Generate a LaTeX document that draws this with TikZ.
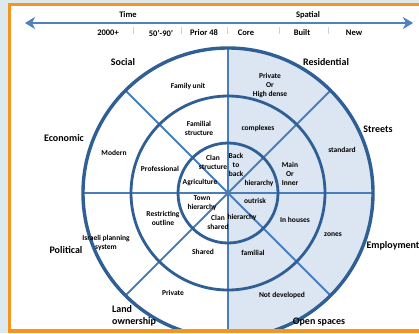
\documentclass[tikz,border=0pt]{standalone}
\usepackage{fontspec}
\setmainfont{Carlito}
\usetikzlibrary{arrows.meta,calc}
\definecolor{bgstrip}{HTML}{DDE9EC}
\definecolor{frameorange}{HTML}{F7941D}
\definecolor{ringblue}{HTML}{2F5F95}
\definecolor{spokeblue}{HTML}{4A7EBB}
\definecolor{halffill}{HTML}{DCE6F2}
\definecolor{arrowblue}{HTML}{4F81BD}
\definecolor{tickgrey}{HTML}{C5D3E3}
\begin{document}
\begin{tikzpicture}[x=1pt,y=-1pt,
  outerlbl/.style={font=\fontsize{10}{11.5}\selectfont\bfseries, inner sep=0pt},
  hdr/.style={font=\fontsize{8.5}{10}\selectfont\bfseries, inner sep=0pt},
  inlbl/.style={font=\fontsize{7.5}{9}\selectfont\bfseries, align=center, inner sep=0pt},
  ring/.style={draw=ringblue, line width=2.8pt},
  outring/.style={draw=ringblue, line width=3.4pt},
  spoke/.style={draw=spokeblue, line width=2.1pt},
  tick/.style={draw=tickgrey, line width=1pt}]
\useasboundingbox (0,0) rectangle (419,333);
% background and frame
\fill[bgstrip] (0,0) rectangle (419,333);
\fill[white] (10,4) rectangle (419,333);

\coordinate (C) at (228,193);
\begin{scope}
  \clip (10,4) rectangle (419,329);
  % right half fill
  \begin{scope}
    \clip (228,0) rectangle (419,333);
    \fill[halffill] (C) circle[radius=145pt];
  \end{scope}
  % spokes
  \coordinate (top) at ($(C)+(90:145pt)$);
  \coordinate (bot) at ($(C)+(270:145pt)$);
  \coordinate (lft) at ($(C)+(180:145pt)$);
  \coordinate (rgt) at ($(C)+(0:145pt)$);
  \coordinate (ne) at ($(C)+(45:145pt)$);
  \coordinate (sw) at ($(C)+(225:145pt)$);
  \coordinate (nw) at ($(C)+(135:145pt)$);
  \coordinate (se) at ($(C)+(315:145pt)$);
  \draw[spoke] (top) -- (bot);
  \draw[spoke] (lft) -- (rgt);
  \draw[spoke] (ne) -- (sw);
  \draw[spoke] (nw) -- (se);
  % rings
  \draw[ring] (C) circle[radius=50pt];
  \draw[ring] (C) circle[radius=97pt];
  \draw[outring] (C) circle[radius=145pt];
\end{scope}

% frame lines
\fill[frameorange] (8,3) rectangle (11,331);
\fill[frameorange] (8,3) rectangle (419,5.5);
\fill[frameorange] (8,329) rectangle (419,333);

% top arrow
\coordinate (aL) at (25,23);
\coordinate (aR) at (413,23);
\draw[arrowblue, line width=2.6pt, {Stealth[length=10pt,width=12pt,inset=3pt]}-{Stealth[length=10pt,width=12pt,inset=3pt]}] (aL) -- (aR);
\foreach \tx [count=\i] in {133,181,227,279,328}{
  \coordinate (t\i a) at (\tx,27);
  \coordinate (t\i b) at (\tx,34);
  \draw[tick] (t\i a) -- (t\i b);
}
\node[hdr] (time) at (128,15) {Time};
\node[hdr] (spatial) at (308,15) {Spatial};
\node[hdr] (h1) at (108,33) {2000+};
\node[hdr] (h2) at (161,33) {50'-90'};
\node[hdr] (h3) at (204,33) {Prior 48};
\node[hdr] (h4) at (246,33) {Core};
\node[hdr] (h5) at (302,33) {Built};
\node[hdr] (h6) at (354,33) {New};

% outer labels
\node[outerlbl] (social) at (123,62) {Social};
\node[outerlbl] (resid) at (326,62) {Residential};
\node[outerlbl] (econ) at (64,138) {Economic};
\node[outerlbl] (streets) at (378,129) {Streets};
\node[outerlbl] (polit) at (66,250) {Political};
\node[outerlbl] (employ) at (393,246) {Employment};
\node[outerlbl, align=left, anchor=west] (land) at (112,316) {Land\\ownership};
\node[outerlbl] (open) at (319,322) {Open spaces};

% inner labels
\node[inlbl] (famunit) at (188,86) {Family unit};
\node[inlbl] (famstr) at (199,128) {Familial\\structure};
\node[inlbl] (modern) at (114,153) {Modern};
\node[inlbl] (clanstr) at (213,162) {Clan\\structure};
\node[inlbl] (prof) at (160,169) {Professional};
\node[inlbl] (agri) at (200,182) {Agriculture};
\node[inlbl] (town) at (202,203) {Town\\hierarchy};
\node[inlbl] (clansh) at (218,222) {Clan\\shared};
\node[inlbl] (restr) at (163,218) {Restricting\\outline};
\node[inlbl] (israeli) at (106,243) {Israeli planning\\system};
\node[inlbl] (shared) at (203,252) {Shared};
\node[inlbl] (priv) at (173,293) {Private};
\node[inlbl] (privor) at (270,85) {Private\\Or\\High dense};
\node[inlbl] (complex) at (258,128) {complexes};
\node[inlbl] (standard) at (342,150) {standard};
\node[inlbl] (back) at (236,165) {Back\\to\\back};
\node[inlbl] (hier1) at (259,183) {hierarchy};
\node[inlbl] (main) at (290,174) {Main\\Or\\Inner};
\node[inlbl] (outrisk) at (255,201) {outrisk};
\node[inlbl] (hier2) at (242,217) {hierarchy};
\node[inlbl] (inhouses) at (295,220) {In houses};
\node[inlbl] (zones) at (333,235) {zones};
\node[inlbl] (familial) at (253,253) {familial};
\node[inlbl] (notdev) at (282,295) {Not developed};
\end{tikzpicture}
\end{document}
